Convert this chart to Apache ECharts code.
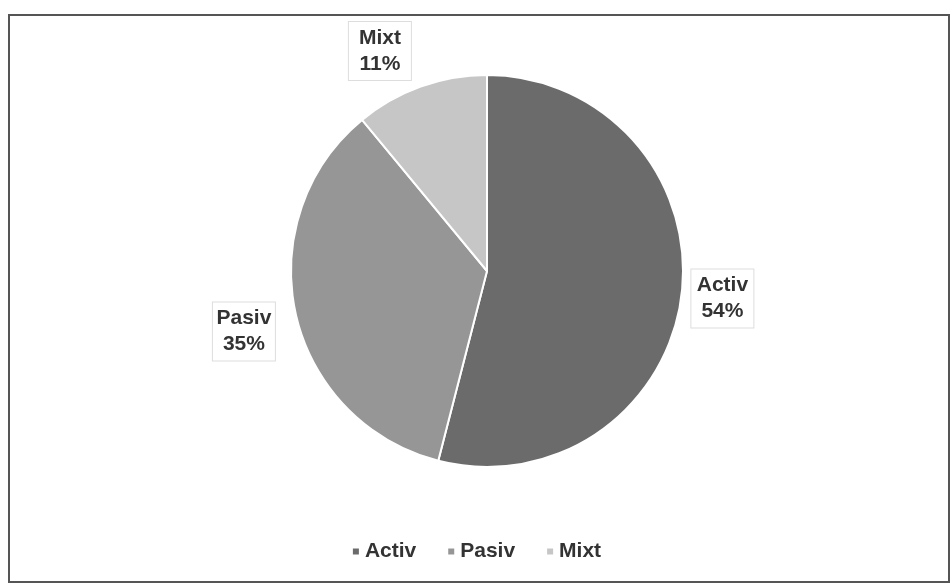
<!DOCTYPE html>
<html>
<head>
<meta charset="utf-8">
<script src="https://cdn.jsdelivr.net/npm/echarts@6/dist/echarts.min.js"></script>
<style>
  html, body { margin: 0; padding: 0; background: #fff; }
  #chart { width: 952px; height: 586px; }
</style>
</head>
<body>
<div id="chart"></div>
<script>
// categories and shares (percent)
const categories = ['Activ', 'Pasiv', 'Mixt'];
const shares = [54, 35, 11];
const sliceColors = ['#6b6b6b', '#969696', '#c6c6c6'];
// small nudges of the outside labels, per slice [dx, dy]
const labelNudge = [[-3, 2], [-8, 16], [-2, -28]];

const myChart = echarts.init(document.getElementById('chart'));

const option = {
  backgroundColor: '#fff',
  color: sliceColors,
  textStyle: { fontFamily: 'Liberation Sans, Arial, sans-serif' },
  graphic: [{
    type: 'rect',
    shape: { x: 9, y: 15, width: 940, height: 567 },
    style: { fill: 'none', stroke: '#555', lineWidth: 2 },
    silent: true
  }],
  legend: {
    bottom: 19,
    left: 'center',
    itemWidth: 8,
    itemHeight: 8,
    itemGap: 30,
    icon: 'rect',
    textStyle: { fontSize: 21, fontWeight: 'bold', color: '#333' },
    data: categories
  },
  series: [{
    type: 'pie',
    center: [487, 271],
    radius: 196,
    startAngle: 90,
    clockwise: true,
    itemStyle: { borderColor: '#fff', borderWidth: 2 },
    label: {
      position: 'outside',
      formatter: '{t|{b}}\n{t|{d}%}',
      backgroundColor: '#fff',
      borderColor: '#ddd',
      borderWidth: 1,
      padding: [3, 4],
      rich: {
        t: {
          width: 54,
          align: 'center',
          fontSize: 21,
          fontWeight: 'bold',
          lineHeight: 26,
          color: '#333'
        }
      }
    },
    labelLine: { show: false, length: 8, length2: 0 },
    labelLayout: function (params) {
      const n = labelNudge[params.dataIndex];
      return { dx: n[0], dy: n[1] };
    },
    data: categories.map((name, i) => ({ name: name, value: shares[i] }))
  }]
};

myChart.setOption(option);
</script>
</body>
</html>
